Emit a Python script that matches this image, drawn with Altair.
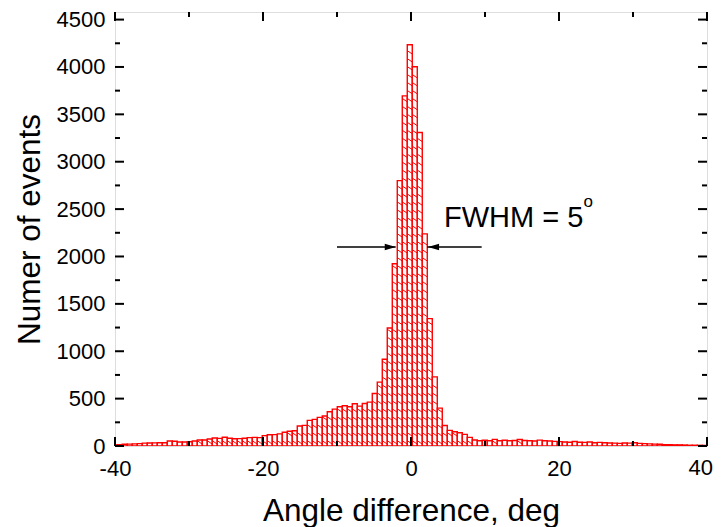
import altair as alt
import pandas as pd

# ---- data ----
first_edge = -40.37      # left edge of the first bin (deg)
bin_width = 0.6757       # bin width (deg)
counts = [
    12, 15, 18, 20, 22, 25, 30, 32, 33, 35,
    35, 53, 50, 42, 42, 45, 52, 64, 63, 74,
    84, 80, 92, 82, 76, 78, 81, 88, 91, 88,
    110, 119, 120, 128, 145, 156, 161, 211, 218, 270,
    281, 302, 316, 361, 389, 414, 425, 414, 446, 421,
    449, 463, 554, 674, 916, 1245, 1923, 2800, 3695,
    4235,
    4003, 3308, 2239, 1344, 730, 400, 216, 165, 151, 140,
    123, 91, 63, 56, 60, 56, 70, 56, 60, 56,
    58, 68, 58, 56, 53, 62, 56, 53, 49, 46,
    42, 40, 48, 40, 38, 42, 35, 38, 35, 32,
    30, 28, 32, 30, 35, 28, 25, 22, 20, 18,
    15, 14, 12, 12, 10, 8, 8, 7, 6,
]
x_major = [-40, -20, 0, 20, 40]
x_minor = [-30, -10, 10, 30]
y_major = [0, 500, 1000, 1500, 2000, 2500, 3000, 3500, 4000, 4500]
y_minor = [250, 750, 1250, 1750, 2250, 2750, 3250, 3750, 4250]
fwhm_level = 2100
arrow_left = [-10.0, -2.07]
arrow_right = [2.2, 9.55]
arrow_heads_x = [-2.8, 3.05]

X_DOM = [-40, 40]
Y_DOM = [0, 4580]
W, H = 592, 434
FONT = "Liberation Sans"
RED = "#ff0000"

bins = pd.DataFrame({
    "x0": [first_edge + i * bin_width for i in range(len(counts))],
    "x1": [first_edge + (i + 1) * bin_width for i in range(len(counts))],
    "n": counts,
})

# hatch segments ("\" direction) inside each bar
step, drop = 84, 36
rows = []
for x0, x1, n in zip(bins.x0, bins.x1, bins.n):
    yk = 20
    while yk + drop <= n - 8:
        rows.append({"x0": x0, "x1": x1, "n": yk + drop, "n2": yk})
        yk += step
hatch = pd.DataFrame(rows)

xs = alt.Scale(domain=X_DOM, nice=False, zero=False)
ys = alt.Scale(domain=Y_DOM, nice=False)

hyphen_labels = "datum.value < 0 ? '-' + abs(datum.value) : '' + datum.value"
x_max = max(x_major)

x_axis = alt.Axis(
    values=x_major, tickSize=0, domain=False, grid=False,
    labelExpr=f"datum.value >= {x_max} ? '' : ({hyphen_labels})",
    labelFont=FONT, labelFontSize=22, labelColor="black", labelPadding=12,
    labelFlush=False, labelOverlap=False,
    title="Angle difference, deg", titleFont=FONT, titleFontSize=31.5,
    titleFontWeight="normal", titleColor="black", titleY=65, titleBaseline="middle")
y_axis = alt.Axis(
    values=y_major, tickSize=0, domain=False, grid=False, labelExpr=hyphen_labels,
    labelFont=FONT, labelFontSize=22, labelColor="black", labelPadding=10,
    labelFlush=False, labelOverlap=False,
    title="Numer of events", titleFont=FONT, titleFontSize=31.5,
    titleFontWeight="normal", titleColor="black", titleX=-85,
    titleBaseline="middle", titleAngle=270)

def X(field):
    return alt.X(field, scale=xs, axis=x_axis, title="Angle difference, deg")

def Y(field):
    return alt.Y(field, scale=ys, axis=y_axis, title="Numer of events")

bars = alt.Chart(bins).mark_rect(
    fill="white", stroke=RED, strokeWidth=1.4, clip=True
).encode(x=X("x0:Q"), x2="x1:Q", y=Y("n:Q"), y2=alt.datum(0))

hatch_layer = alt.Chart(hatch).mark_rule(color=RED, strokeWidth=1, clip=True).encode(
    x=X("x0:Q"), x2="x1:Q", y=Y("n:Q"), y2="n2:Q",
)

# last x tick label, kept inside the page
last_label = alt.Chart(pd.DataFrame({"x0": [x_max], "t": [str(x_max)]})).mark_text(
    font=FONT, fontSize=22, align="right", baseline="top", dx=6, color="black"
).encode(x=X("x0:Q"), y=alt.value(H + 12), text="t:N")

def xticks(vals, length):
    df = pd.DataFrame({"x0": vals})
    b = alt.Chart(df).mark_rule(color="black", strokeWidth=2).encode(
        x=X("x0:Q"), y=alt.value(H), y2=alt.value(H - length))
    t = alt.Chart(df).mark_rule(color="black", strokeWidth=2).encode(
        x=X("x0:Q"), y=alt.value(0), y2=alt.value(length))
    return [b, t]

def yticks(vals, length):
    df = pd.DataFrame({"n": vals})
    l = alt.Chart(df).mark_rule(color="black", strokeWidth=2).encode(
        y=Y("n:Q"), x=alt.value(0), x2=alt.value(length))
    r = alt.Chart(df).mark_rule(color="black", strokeWidth=2).encode(
        y=Y("n:Q"), x=alt.value(W), x2=alt.value(W - length))
    return [l, r]

arrows_df = pd.DataFrame({
    "x0": [arrow_left[0], arrow_right[0]],
    "x1": [arrow_left[1], arrow_right[1]],
    "n": [fwhm_level, fwhm_level],
})
arrow_lines = alt.Chart(arrows_df).mark_rule(color="black", strokeWidth=1.3).encode(
    x=X("x0:Q"), x2="x1:Q", y=Y("n:Q"),
)
heads = []
for hx, shape in zip(arrow_heads_x, ["M-1,-0.6L1,0L-1,0.6Z", "M1,-0.6L-1,0L1,0.6Z"]):
    heads.append(alt.Chart(pd.DataFrame({"x0": [hx], "n": [fwhm_level]})).mark_point(
        shape=shape, filled=True, color="black", size=121, opacity=1, strokeWidth=0
    ).encode(x=X("x0:Q"), y=Y("n:Q")))

label = alt.Chart(pd.DataFrame({"x0": [4.46], "n": [2316], "t": ["FWHM = 5"]})).mark_text(
    font=FONT, fontSize=29, align="left", baseline="alphabetic", color="black"
).encode(x=X("x0:Q"), y=Y("n:Q"), text="t:N")
sup = alt.Chart(pd.DataFrame({"x0": [23.3], "n": [2520], "t": ["o"]})).mark_text(
    font=FONT, fontSize=17, align="left", baseline="alphabetic", color="black"
).encode(x=X("x0:Q"), y=Y("n:Q"), text="t:N")

layers = [bars, hatch_layer, arrow_lines] + heads + [label, sup, last_label]
layers += xticks(x_major, 9) + xticks(x_minor, 5) + yticks(y_major, 9) + yticks(y_minor, 5)

chart = alt.layer(*layers).properties(
    width=W, height=H,
    autosize=alt.AutoSizeParams(type="none"),
    padding={"left": 107, "top": 4, "right": 6, "bottom": 81},
).configure_view(stroke="black", strokeWidth=2).configure(background="white")

chart.save("out.html", embed_options={"renderer": "svg", "actions": False})
